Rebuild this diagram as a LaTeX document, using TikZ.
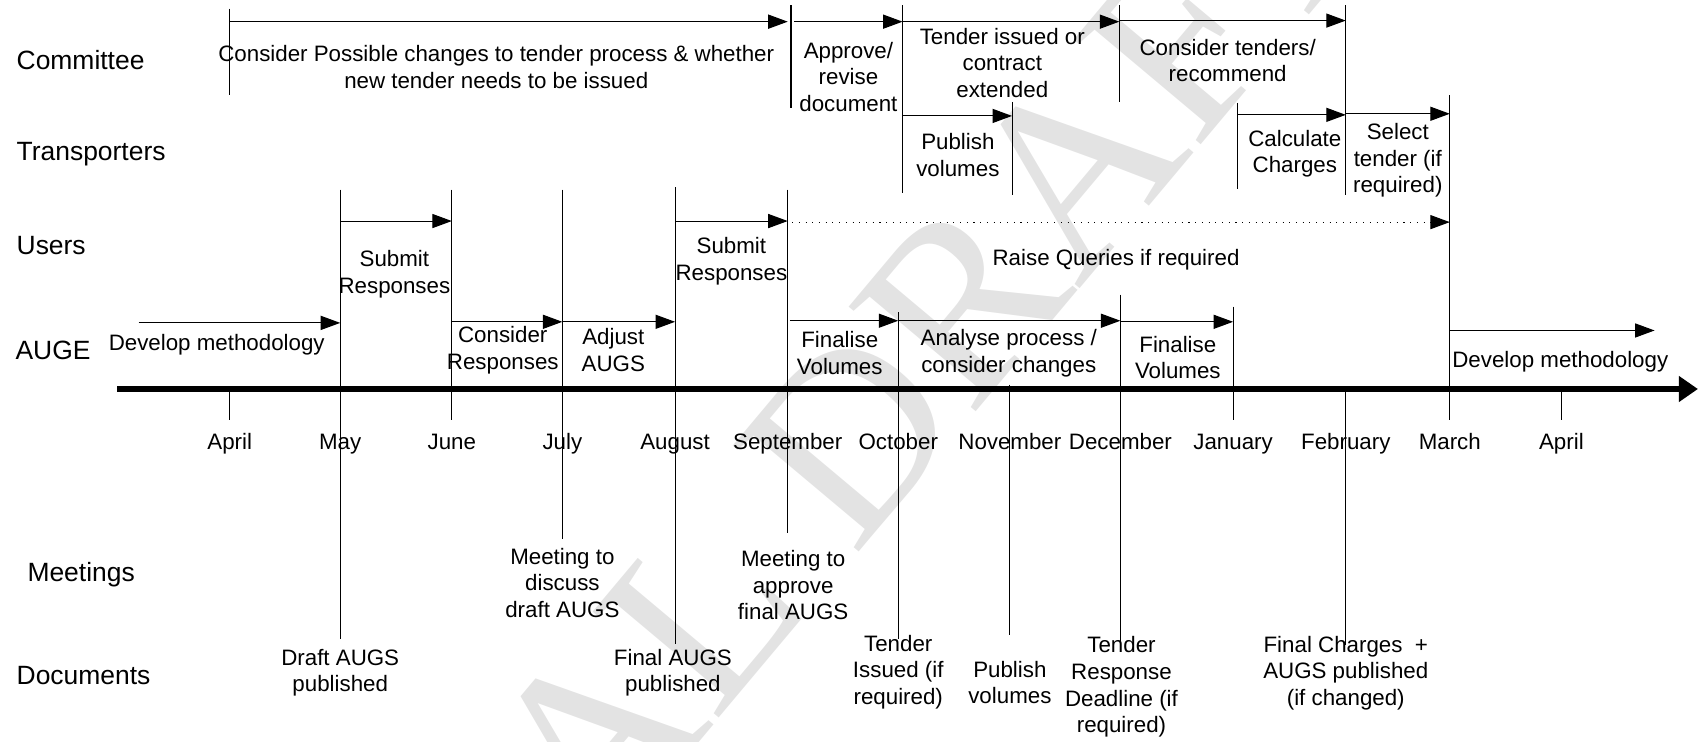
\documentclass[tikz,border=0pt]{standalone}
\usepackage{fontspec}
\setmainfont{Liberation Sans}
\newfontfamily\wmfont{Liberation Serif}
\usetikzlibrary{arrows.meta}

\begin{document}
\begin{tikzpicture}[x=0.5pt, y=-0.5pt,
    lane/.style={anchor=west, inner sep=0pt, font=\fontsize{12.2}{14}\selectfont},
    task/.style={align=center, inner sep=0pt, font=\fontsize{10.3}{12.25}\selectfont},
    month/.style={task, anchor=base},
    span/.style={line width=0.5pt, -{Triangle[length=9pt,width=6.5pt]}},
    bar/.style={line width=0.5pt},
    wmark/.style={rotate=50, inner sep=0pt, text=black!11, font=\wmfont\fontsize{116}{116}\selectfont}]

    \useasboundingbox (0,0) rectangle (1568,684);

    \node[wmark] (wm) at (736,458) {FINAL DRAFT};

    \node[lane] (committee) at (15,55) {Committee};
    \node[lane] (transporters) at (15,142) {Transporters};
    \node[lane] (users) at (15,227) {Users};
    \node[lane] (auge) at (14,323) {AUGE};
    \node[lane] (meetings) at (25,530) {Meetings};
    \node[lane] (documents) at (15,623) {Documents};

    % time axis
    \coordinate (t0) at (108,359);
    \coordinate (t1) at (1567,359);
    \draw[line width=2.4pt, -{Triangle[length=8.8pt,width=11.5pt]}] (t0) -- (t1);

    \foreach \n/\x/\t in {aprA/212/April, may/314/May, jun/417/June, jul/519/July,
        aug/623/August, sep/727/September, oct/829/October, nov/932/November,
        dec/1034/December, jan/1138/January, feb/1242/February, mar/1338/March, aprB/1441/April}
        \node[month] (\n) at (\x,415) {\t};

    \foreach \x/\a/\b in {212/8/88, 730/5/100, 833/5/178, 1033/5/94, 1242/5/180,
        934/94/180, 1142/95/174, 1338/88/388,
        314/175/590, 417/175/388, 519/175/497, 623/173/594, 727/175/492,
        829/288/590, 932/355/586, 1034/272/595, 1138/283/388, 1242/358/595,
        212/359/388, 1441/359/388}
        \draw[bar] (\x,\a) -- (\x,\b);

    \foreach \i/\xa/\xb/\y in {c1/212/727/20, c2/733/833/20, c3/833/1033/20, c4/1033/1242/19,
        p1/833/934/107, p2/1142/1242/106, p3/1242/1338/105,
        u1/314/417/204, u2/623/727/204,
        a1/128/314/298, a2/417/519/297, a3/519/623/297, a4/729/829/296,
        a5/829/1034/296, a6/1034/1138/297, a7/1338/1527/305}
    {
        \coordinate (\i s) at (\xa,\y);
        \coordinate (\i e) at (\xb,\y);
        \draw[span] (\i s) -- (\i e);
    }

    \coordinate (q1s) at (731,205);
    \coordinate (q1e) at (1338,205);
    \draw[span, dash pattern=on 0.5pt off 2.6pt] (q1s) -- (q1e);

    \node[task] (consider) at (458,62) {Consider Possible changes to tender process \& whether\\new tender needs to be issued};
    \node[task] (approve) at (783,71) {Approve/\\revise\\document};
    \node[task] (issued) at (925,58) {Tender issued or\\contract\\extended};
    \node[task] (tenders) at (1133,56) {Consider tenders/\\recommend};

    \node[task] (pubvol) at (884,143) {Publish\\volumes};
    \node[task] (calc) at (1195,142) {Calculate\\Charges};
    \node[task] (select) at (1290,148) {Select\\tender (if\\required)};

    \node[task] (submitA) at (364,253) {Submit\\Responses};
    \node[task] (submitB) at (675,241) {Submit\\Responses};
    \node[task] (queries) at (1030,240) {Raise Queries if required};

    \node[task] (devA) at (200,318) {Develop methodology};
    \node[task] (consresp) at (464,323) {Consider\\Responses};
    \node[task] (adjust) at (566,323) {Adjust\\AUGS};
    \node[task] (finA) at (775,326) {Finalise\\Volumes};
    \node[task] (analyse) at (931,326) {Analyse process /\\consider changes};
    \node[task] (finB) at (1087,330) {Finalise\\Volumes};
    \node[task] (devB) at (1440,334) {Develop methodology};

    \node[task] (meetA) at (519,538) {Meeting to\\discuss\\draft AUGS};
    \node[task] (meetB) at (732,540) {Meeting to\\approve\\final AUGS};

    \node[task] (draftdoc) at (314,621) {Draft AUGS\\published};
    \node[task] (finaldoc) at (621,621) {Final AUGS\\published};
    \node[task] (tenderdoc) at (829,620) {Tender\\Issued (if\\required)};
    \node[task] (voldoc) at (932,630) {Publish\\volumes};
    \node[task] (deadline) at (1035,634) {Tender\\Response\\Deadline (if\\required)};
    \node[task] (chargedoc) at (1242,621) {Final Charges\ \ +\\AUGS published\\(if changed)};

\end{tikzpicture}
\end{document}
